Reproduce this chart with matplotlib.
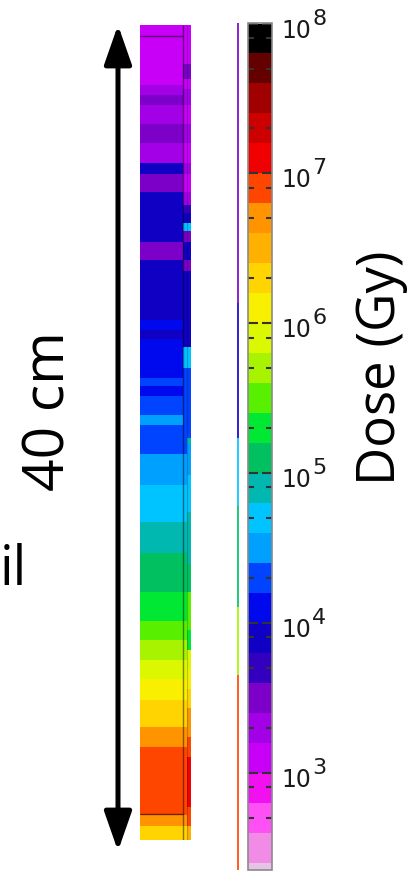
import numpy as np
import matplotlib
matplotlib.use('Agg')
import matplotlib.pyplot as plt
from matplotlib.colors import ListedColormap, LogNorm
from matplotlib.patches import FancyArrowPatch
from matplotlib.ticker import LogLocator, NullFormatter
from matplotlib.transforms import offset_copy

# dose colour scale: bands of 0.2 decade (log10 Gy), bottom one partial
band_edges = [2.35, 2.4, 2.6, 2.8, 3.0, 3.2, 3.4, 3.6, 3.8, 4.0, 4.2, 4.4, 4.6, 4.8,
              5.0, 5.2, 5.4, 5.6, 5.8, 6.0, 6.2, 6.4, 6.6, 6.8, 7.0, 7.2, 7.4, 7.6, 7.8, 8.0]
band_colors = ['#e6c3e6', '#f08ce6', '#ff50f5', '#f010f0', '#c800f8', '#a400e8',
               '#7c00c8', '#3400c0', '#1000c4', '#0008ee', '#0044ff', '#00a0ff',
               '#00c4ff', '#00b8b0', '#00c060', '#00e834', '#58f000', '#a8f400',
               '#dcf800', '#f8f000', '#ffd400', '#ffb000', '#ff9400', '#ff4600',
               '#f00000', '#cc0000', '#a00000', '#640000', '#000000']
tick_exponents = [3, 4, 5, 6, 7, 8]

# strip: depth segments (cm from top) and log10 dose (Gy)
main_edges = [0, 2.9, 3.4, 3.9, 4.8, 5.7, 6.7, 7.2, 8.1, 10.5, 11.4, 14.3, 14.8, 15.2,
              17.1, 17.5, 18.0, 18.9, 19.4, 20.8, 22.3, 24.1, 25.6, 27.5, 28.9, 29.8,
              30.8, 31.7, 32.7, 34.0, 35.0, 38.3, 38.8, 39.5]
main_logdose = [3.1, 3.3, 3.5, 3.3, 3.5, 3.3, 3.9, 3.5, 3.9, 3.5, 3.9, 4.1, 3.9, 4.1,
                4.3, 4.1, 4.3, 4.5, 4.3, 4.5, 4.7, 4.9, 5.1, 5.3, 5.5, 5.7, 5.9, 6.1,
                6.3, 6.7, 6.9, 6.7, 6.3]

side_edges = [0, 1.9, 2.6, 3.1, 3.9, 4.8, 5.7, 6.7, 7.2, 8.1, 8.7, 9.1, 9.6, 10.0,
              10.5, 11.4, 11.9, 15.6, 16.6, 20.0, 20.3, 21.8, 23.6, 26.1, 27.5, 29.3,
              30.3, 31.2, 32.2, 33.1, 34.5, 35.5, 37.9, 38.8, 39.5]
side_logdose = [3.1, 3.5, 3.1, 3.3, 3.1, 3.3, 3.1, 3.3, 3.1, 3.3, 3.7, 3.9, 4.7, 3.5,
                3.9, 3.5, 3.9, 4.7, 4.3, 4.9, 4.5, 4.7, 4.9, 5.1, 5.5, 5.3, 5.9, 6.1,
                6.3, 6.7, 6.9, 7.1, 6.9, 6.5]

# thin trace next to the colour bar (fraction of length from top, log10 dose)
trace_edges = [0, 0.33, 0.49, 0.57, 0.69, 0.77, 1.0]
trace_logdose = [3.5, 3.9, 4.7, 5.1, 5.7, 6.9]

# middle sub-column: like the side one above 20 cm, like the main one below
cut = 20.0
k = side_edges.index(cut)
j = next(i for i, e in enumerate(main_edges) if e > cut)
mid_edges = side_edges[:k + 1] + main_edges[j:]
mid_logdose = side_logdose[:k] + main_logdose[j - 1:]

# fine listed colormap so the bands sit at the right log positions
vmin, vmax = 10 ** band_edges[0], 10 ** band_edges[-1]
fine = np.linspace(band_edges[0], band_edges[-1], 1131)
centers = (fine[:-1] + fine[1:]) / 2
idx = np.clip(np.searchsorted(band_edges, centers) - 1, 0, len(band_colors) - 1)
cmap = ListedColormap([band_colors[i] for i in idx])
norm = LogNorm(vmin=vmin, vmax=vmax)

W, H = 409, 871
fig = plt.figure(figsize=(W / 100, H / 100), dpi=100)


def box(x0, y0, x1, y1):
    return [x0 / W, 1 - y1 / H, (x1 - x0) / W, (y1 - y0) / H]


# dose strip
ax = fig.add_axes(box(140, 25, 191, 840))
cols = [(0, 0.84, main_edges, main_logdose),
        (0.84, 0.92, mid_edges, mid_logdose),
        (0.92, 1.0, side_edges, side_logdose)]
for x0, x1, edges, logd in cols:
    d = (10 ** np.array(logd)).reshape(-1, 1)
    ax.pcolormesh([x0, x1], edges, d, cmap=cmap, norm=norm, shading='flat')
ax.hlines([0.53, 38.26], 0, 0.84, color='k', alpha=0.55, lw=1)
ax.vlines(0.84, 0, 39.5, color='k', alpha=0.45, lw=1)
ax.vlines(0.92, 0, 39.5, color='k', alpha=0.2, lw=0.8)
ax.set_xlim(0, 1)
ax.set_ylim(39.5, 0)
ax.axis('off')

# thin trace
tax = fig.add_axes(box(237, 23, 239.2, 870))
td = (10 ** np.array(trace_logdose)).reshape(-1, 1)
tax.pcolormesh([0, 1], trace_edges, td, cmap=cmap, norm=norm, alpha=0.85, shading='flat')
tax.set_xlim(0, 1)
tax.set_ylim(1, 0)
tax.axis('off')

# colour bar
cax = fig.add_axes(box(248, 23.5, 272, 870))
sm = plt.cm.ScalarMappable(norm=norm, cmap=cmap)
cb = fig.colorbar(sm, cax=cax)
cb.outline.set_edgecolor('#8a8a8a')
cb.outline.set_linewidth(1.2)
cax.yaxis.set_major_locator(LogLocator(base=10))
cax.yaxis.set_major_formatter(NullFormatter())
cax.yaxis.set_minor_locator(LogLocator(base=10, subs=(2, 5, 8)))
cax.yaxis.set_minor_formatter(NullFormatter())
cax.tick_params(which='both', direction='in', left=True, right=True,
                labelleft=False, labelright=False, color='#333333')
cax.tick_params(which='major', length=7, width=1.5)
cax.tick_params(which='minor', length=4.2, width=1.5)
cax.set_ylim(vmin, vmax)

# tick labels: "10" with a near full-size exponent
ytr = cax.get_yaxis_transform()
for e in tick_exponents:
    cax.text(1, 10.0 ** e, '10', transform=offset_copy(ytr, fig=fig, x=9, y=-14, units='dots'),
             ha='left', va='baseline', fontsize=17, color='#1a1a1a')
    cax.text(1, 10.0 ** e, str(e), transform=offset_copy(ytr, fig=fig, x=40, y=-1, units='dots'),
             ha='left', va='baseline', fontsize=16, color='#1a1a1a')

# double arrow and labels
arrow = FancyArrowPatch((118 / W, 1 - 851 / H), (118 / W, 1 - 25 / H),
                        transform=fig.transFigure,
                        arrowstyle='<|-|>,head_length=1.2,head_width=0.42',
                        mutation_scale=20, lw=3.6, color='k',
                        shrinkA=0, shrinkB=0)
fig.patches.append(arrow)

font = 'Open Sans'
fig.text(50 / W, 1 - 411 / H, '40 cm', rotation=90, ha='center', va='center',
         fontsize=41, family=font)
fig.text(381 / W, 1 - 368 / H, 'Dose (Gy)', rotation=90, ha='center', va='center',
         fontsize=38, family=font)
fig.text(0, 1 - 585 / H, 'il', ha='left', va='baseline', fontsize=39, family=font)

fig.savefig('out.png', dpi=100)
